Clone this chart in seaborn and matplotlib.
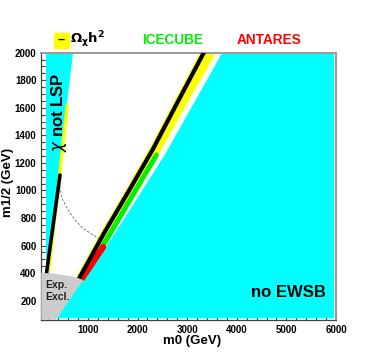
import numpy as np
import pandas as pd
import seaborn as sns
import matplotlib.pyplot as plt
from matplotlib.ticker import MultipleLocator
from matplotlib.patches import Rectangle

# --- regions (m0, m1/2 in GeV) ---
lsp_x = [155, 700, 185, 155]
lsp_y = [2000, 2000, 420, 420]

ewsb_x = [3707, 5960, 5960, 330, 900, 1420, 2560, 3707]
ewsb_y = [2000, 2000, 72, 72, 352, 620, 1265, 2000]

excl_x = [60, 60, 300, 625, 800, 900, 356]
excl_y = [62, 403, 397, 380, 365, 350, 62]

# relic density band (yellow) and central line (black)
band_y = [340, 700, 1000, 1300, 1650, 2000]
band_lo = [700, 1250, 1740, 2220, 2730, 3245]
band_hi = [900, 1470, 1990, 2470, 3010, 3570]
omega_x = [788, 1340, 1830, 2310, 2820, 3335]
omega_y = [340, 700, 1000, 1300, 1650, 2000]

# focus point branch near the not-LSP boundary
lsp_band_x = [215, 585]
lsp_band_y = [420, 1620]
lsp_line_x = [165, 437]
lsp_line_y = [400, 1112]

icecube_x = [1010, 2380]
icecube_y = [420, 1257]
antares_x = [885, 1306]
antares_y = [365, 590]

limit_x = [430, 480, 600, 750, 900, 1050, 1230]
limit_y = [1030, 940, 860, 780, 725, 690, 650]

CYAN = "#00ffff"
YELLOW = "#ffff00"
GREEN = "#00ee00"
RED = "#ff0000"

sns.set_theme(style="ticks")
plt.rcParams["font.family"] = ["Liberation Sans", "DejaVu Sans"]
plt.rcParams["text.color"] = "black"

fig = plt.figure(figsize=(3.74, 3.54), dpi=100)
ax = fig.add_axes([41.3 / 374, 1 - 320 / 354, 294.7 / 374, 267.3 / 354])

# filled regions
ax.fill(ewsb_x, ewsb_y, color=CYAN, lw=0, zorder=1)
ax.fill(lsp_x, lsp_y, color=CYAN, lw=0, zorder=1)
ax.fill_betweenx(band_y, band_lo, band_hi, color=YELLOW, lw=0, zorder=2)

def line(x, y, color, lw, z, **kw):
    sns.lineplot(x=x, y=y, ax=ax, color=color, linewidth=lw, zorder=z,
                 solid_capstyle="round", legend=False, **kw)

line(lsp_band_x, lsp_band_y, YELLOW, 2.4, 2)
line(icecube_x, icecube_y, GREEN, 3.6, 3)
line(antares_x, antares_y, RED, 4.5, 4)
line(omega_x, omega_y, "black", 3.0, 5)
line(lsp_line_x, lsp_line_y, "black", 2.6, 5)
sns.lineplot(x=limit_x, y=limit_y, ax=ax, color="#666666", linewidth=0.6,
             linestyle=(0, (3, 2)), zorder=3, legend=False)

ax.fill(excl_x, excl_y, color="#cccccc", lw=0, zorder=6)

ax.set_xlim(60, 6000)
ax.set_ylim(60, 2000)
ax.set_xticks([1000, 2000, 3000, 4000, 5000, 6000])
ax.set_yticks(list(range(200, 2001, 200)))
ax.xaxis.set_minor_locator(MultipleLocator(200))
ax.yaxis.set_minor_locator(MultipleLocator(50))
ax.tick_params(which="both", direction="in", colors="#444444",
               labelcolor="black", width=0.8, top=False, right=False)
ax.tick_params(which="major", length=6, labelsize=7)
ax.tick_params(which="minor", length=3)
for lab in ax.get_xticklabels() + ax.get_yticklabels():
    lab.set_fontweight("bold")
for side in ["top", "right"]:
    ax.spines[side].set_color("#999999")
    ax.spines[side].set_linewidth(1.4)
for side in ["left", "bottom"]:
    ax.spines[side].set_color("#444444")
    ax.spines[side].set_linewidth(0.9)

ax.text(0.511, -0.079, "m0 (GeV)", transform=ax.transAxes, ha="center",
        va="center", fontsize=9.5, fontweight="bold")
ax.text(-0.113, 0.513, "m1/2 (GeV)", transform=ax.transAxes, ha="center",
        va="center", rotation=90, fontsize=9.5, fontweight="bold")

ax.text(417, 1570, r"$\chi$ not LSP", rotation=90, ha="center", va="center",
        fontsize=12, fontweight="bold", zorder=7)
ax.text(4288, 256, "no EWSB", ha="left", va="center", fontsize=12,
        fontweight="bold", zorder=7)
ax.text(135, 272, "Exp.\nExcl.", ha="left", va="center", fontsize=7.5,
        fontweight="bold", color="#222222", linespacing=1.2, zorder=7)

# header legend
fig.patches.append(Rectangle((54 / 374, 1 - 48 / 354), 15 / 374, 15 / 354,
                             transform=fig.transFigure, color=YELLOW))
fig.text(61.5 / 374, 1 - 40 / 354, "–", ha="center", va="center",
         fontsize=9, fontweight="bold")
fig.text(70 / 374, 1 - 40 / 354, r"$\mathbf{\Omega_\chi h^2}$", ha="left",
         va="center", fontsize=9.5)
fig.text(172.5 / 374, 1 - 40 / 354, "ICECUBE", ha="center", va="center",
         fontsize=9.8, fontweight="bold", color=GREEN)
fig.text(269 / 374, 1 - 40 / 354, "ANTARES", ha="center", va="center",
         fontsize=9.8, fontweight="bold", color=RED)

fig.savefig("out.png", dpi=100)
